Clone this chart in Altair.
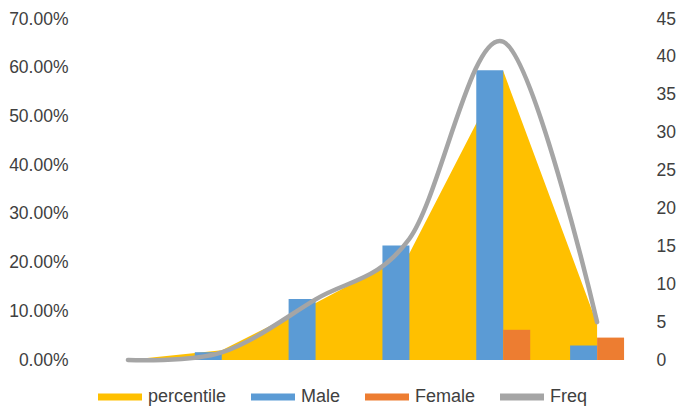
import altair as alt
import pandas as pd

categories = ["G1", "G2", "G3", "G4", "G5", "G6"]
percentile = [0.0, 0.020, 0.117, 0.219, 0.593, 0.074]
male = [0.0, 0.016, 0.125, 0.235, 0.595, 0.030]
female = [0.0, 0.0, 0.0, 0.0, 0.062, 0.046]
freq = [0, 1, 8, 16, 42, 5]

left_ticks = [0.0, 0.1, 0.2, 0.3, 0.4, 0.5, 0.6, 0.7]
right_ticks = [0, 5, 10, 15, 20, 25, 30, 35, 40, 45]

series_names = ["percentile", "Male", "Female", "Freq"]
series_colors = ["#FFC000", "#5B9BD5", "#ED7D31", "#A5A5A5"]

area_df = pd.DataFrame({"category": categories, "value": percentile, "series": "percentile"})
bar_df = pd.concat([
    pd.DataFrame({"category": categories, "value": male, "series": "Male"}),
    pd.DataFrame({"category": categories, "value": female, "series": "Female"}),
])
line_df = pd.DataFrame({"category": categories, "freq": freq, "series": "Freq"})

FONT = "Liberation Sans"
LABEL_COLOR = "#404040"

x_enc = alt.X("category:N", sort=categories,
              scale=alt.Scale(paddingInner=0.425, paddingOuter=0.2125), axis=None)

color_scale = alt.Scale(domain=series_names, range=series_colors)

left_axis = alt.Axis(format=".2%", values=left_ticks, domain=False, ticks=False, grid=False,
                     labelFont=FONT, labelFontSize=17.5, labelColor=LABEL_COLOR,
                     labelPadding=13, title=None)
right_axis = alt.Axis(orient="right", values=right_ticks, domain=False, ticks=False, grid=False,
                      labelFont=FONT, labelFontSize=17.5, labelColor=LABEL_COLOR,
                      labelPadding=12, title=None)

y_left = alt.Y("value:Q", scale=alt.Scale(domain=[0, 0.7]), axis=left_axis)

rect_path = "M-1,-0.16L1,-0.16L1,0.16L-1,0.16Z"
legend = alt.Legend(title=None, orient="none", direction="horizontal",
                    legendX=17, legendY=356,
                    symbolType=rect_path, symbolSize=1936, symbolOpacity=1,
                    symbolStrokeWidth=0,
                    labelOffset=6, columnPadding=24,
                    labelFont=FONT, labelFontSize=18,
                    labelColor=LABEL_COLOR, labelLimit=200)

color_enc = alt.Color("series:N", scale=color_scale, legend=legend)

area = alt.Chart(area_df).mark_area(interpolate="linear", opacity=1).encode(
    x=x_enc,
    y=y_left,
    color=color_enc,
)

bars = alt.Chart(bar_df).mark_bar().encode(
    x=x_enc,
    xOffset=alt.XOffset("series:N", sort=["Male", "Female"],
                        scale=alt.Scale(domain=["Male", "Female"], paddingInner=0, paddingOuter=0)),
    y=y_left,
    color=color_enc,
)

line = alt.Chart(line_df).mark_line(interpolate="cardinal", strokeWidth=4.5, strokeCap="round",
                                    color="#A5A5A5").encode(
    x=x_enc,
    y=alt.Y("freq:Q", scale=alt.Scale(domain=[0, 45]), axis=right_axis),
    detail="series:N",
)

left_layer = alt.layer(area, bars)

chart = alt.layer(left_layer, line).resolve_scale(y="independent").properties(
    width=563,
    height=341,
    padding={"left": 73, "top": 11, "right": 33, "bottom": 49},
    autosize=alt.AutoSizeParams(type="none"),
).configure_view(stroke=None)

chart.save("out.html", embed_options={"renderer": "svg", "actions": False})
